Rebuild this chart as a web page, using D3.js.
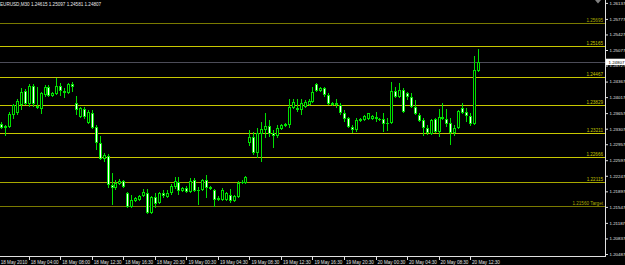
<!DOCTYPE html>
<html><head><meta charset="utf-8">
<script src="https://cdn.jsdelivr.net/npm/d3@7/dist/d3.min.js"></script>
<style>html,body{margin:0;padding:0;background:#000;overflow:hidden}svg{display:block}</style>
</head><body>
<svg id="c" width="625" height="265"></svg>
<script>
const candleOpen=[1.23412,1.23322,1.23345,1.23615,1.23660,1.23840,1.24155,1.23862,1.24267,1.23817,1.23750,1.24065,1.24245,1.24042,1.24087,1.24267,1.24155,1.24110,1.24312,1.23885,1.23570,1.23750,1.23435,1.23660,1.23345,1.22985,1.22625,1.22692,1.22040,1.21972,1.22062,1.22130,1.21860,1.21545,1.21680,1.21702,1.21792,1.21860,1.21410,1.21770,1.21635,1.21860,1.21770,1.21860,1.21995,1.22107,1.21905,1.21972,1.21882,1.22152,1.21927,1.21927,1.22152,1.21995,1.21927,1.21702,1.21702,1.21702,1.21815,1.21680,1.21770,1.22085,1.22085,1.22985,1.23120,1.22760,1.23187,1.23277,1.23367,1.23210,1.23142,1.23300,1.23367,1.23390,1.23772,1.23772,1.23727,1.23795,1.23840,1.23907,1.24312,1.24155,1.24222,1.24065,1.23840,1.23840,1.23840,1.23660,1.23547,1.23345,1.23277,1.23480,1.23502,1.23525,1.23525,1.23570,1.23502,1.23525,1.23412,1.23435,1.24155,1.24020,1.24177,1.24110,1.24020,1.23795,1.23615,1.23502,1.23322,1.23187,1.23525,1.23232,1.23570,1.23525,1.23435,1.23210,1.23322,1.23772,1.23682,1.23592,1.23412,1.24615];
const candleHigh=[1.23457,1.23390,1.23682,1.23862,1.23975,1.24222,1.24200,1.24312,1.24312,1.24245,1.24132,1.24290,1.24290,1.24132,1.24447,1.24335,1.24222,1.24335,1.24357,1.24042,1.23795,1.23795,1.23727,1.23727,1.23390,1.23142,1.22760,1.22737,1.22310,1.22152,1.22175,1.22152,1.21882,1.21815,1.21770,1.21815,1.21950,1.21950,1.21792,1.21860,1.21882,1.21927,1.21927,1.22062,1.22220,1.22220,1.21995,1.22017,1.22197,1.22197,1.21995,1.22175,1.22265,1.22017,1.21950,1.21792,1.21972,1.21882,1.21950,1.21815,1.22130,1.22152,1.22242,1.23277,1.23232,1.23322,1.23457,1.23660,1.23502,1.23277,1.23390,1.23412,1.23435,1.23975,1.23975,1.23975,1.23975,1.23952,1.23975,1.24245,1.24335,1.24245,1.24245,1.24110,1.23907,1.23975,1.23885,1.23727,1.23570,1.23390,1.23547,1.23547,1.23615,1.23660,1.23615,1.23682,1.23547,1.23660,1.23547,1.24357,1.24245,1.24335,1.24222,1.24132,1.24110,1.23952,1.23660,1.23547,1.23390,1.23525,1.23547,1.23750,1.23885,1.23750,1.23547,1.23390,1.23727,1.23885,1.23772,1.23660,1.24942,1.25097];
const candleLow=[1.23300,1.23142,1.23322,1.23525,1.23615,1.23727,1.23840,1.23795,1.23795,1.23750,1.23637,1.24020,1.24020,1.24020,1.24065,1.24042,1.23997,1.24087,1.24132,1.23615,1.23547,1.23525,1.23412,1.23300,1.22827,1.22602,1.22557,1.21972,1.21590,1.21927,1.22040,1.21972,1.21522,1.21522,1.21657,1.21680,1.21770,1.21387,1.21387,1.21522,1.21612,1.21747,1.21747,1.21815,1.21950,1.21815,1.21882,1.21860,1.21860,1.21882,1.21590,1.21905,1.21747,1.21927,1.21545,1.21680,1.21680,1.21680,1.21635,1.21657,1.21747,1.22062,1.22062,1.22917,1.22715,1.22647,1.22557,1.23097,1.23120,1.22872,1.23097,1.23277,1.23345,1.23322,1.23750,1.23682,1.23615,1.23772,1.23817,1.23885,1.24132,1.24132,1.24020,1.23840,1.23817,1.23772,1.23615,1.23457,1.23322,1.23210,1.23232,1.23457,1.23480,1.23502,1.23502,1.23457,1.23480,1.23232,1.23255,1.23412,1.23997,1.23997,1.23660,1.23952,1.23772,1.23615,1.23457,1.23142,1.23165,1.23165,1.23210,1.23120,1.23502,1.23345,1.22940,1.23142,1.23300,1.23637,1.23457,1.23367,1.23390,1.24581];
const candleClose=[1.23322,1.23367,1.23637,1.23840,1.23930,1.24132,1.23862,1.24267,1.23862,1.23772,1.24110,1.24245,1.24042,1.24110,1.24267,1.24155,1.24110,1.24312,1.24245,1.23727,1.23772,1.23570,1.23682,1.23322,1.22985,1.22625,1.22715,1.22040,1.21972,1.22085,1.22130,1.21995,1.21545,1.21702,1.21747,1.21792,1.21882,1.21410,1.21770,1.21612,1.21860,1.21792,1.21860,1.22017,1.22130,1.21905,1.21972,1.21882,1.22130,1.21905,1.21920,1.22152,1.21972,1.21950,1.21702,1.21747,1.21927,1.21860,1.21680,1.21792,1.22085,1.22107,1.22220,1.23120,1.22760,1.23210,1.23300,1.23367,1.23187,1.23142,1.23322,1.23390,1.23412,1.23795,1.23907,1.23727,1.23885,1.23907,1.23930,1.24132,1.24155,1.24222,1.24065,1.23862,1.23885,1.23885,1.23660,1.23525,1.23345,1.23277,1.23502,1.23525,1.23592,1.23650,1.23592,1.23525,1.23525,1.23412,1.23435,1.24155,1.24020,1.24177,1.23682,1.24020,1.23795,1.23637,1.23480,1.23322,1.23210,1.23502,1.23232,1.23570,1.23525,1.23412,1.23210,1.23322,1.23705,1.23660,1.23592,1.23412,1.24627,1.24807];

const priceTicks=[1.26137,1.25777,1.25427,1.25077,1.24727,1.24367,1.24017,1.23657,1.23307,1.22957,1.22597,1.22247,1.21897,1.21547,1.21187,1.20837,1.20487];
const timeTickIndex=[0,7,15,23,31,39,47,55,63,71,79,87,95,103,111,119];
const timeLabels=["18 May 2010","18 May 04:00","18 May 08:00","18 May 12:30","18 May 16:30","18 May 20:30","19 May 00:30","19 May 04:30","19 May 08:30","19 May 12:30","19 May 16:30","19 May 20:30","20 May 00:30","20 May 04:30","20 May 08:30","20 May 12:30"];
const levelPrices=[1.25695,1.25165,1.24467,1.23829,1.23211,1.22666,1.22115,1.21560];
const levelLabels=["1.25695","1.25165","1.24467","1.23829","1.23211","1.22666","1.22115","1.21560 Target"];
const levelKinds=["dim","bright","bright","bright","bright","bright","mid","dim"];
const symbolTitle="EURUSD,M30";
const bidPrice=1.24807;

const W=625,H=265,axisX=605,axisY=256.5;
const svg=d3.select("#c");
const y=d3.scaleLinear().domain([1.20487,1.26137]).range([254,2.9]);
const x=d3.scaleLinear().domain([0,121]).range([1.2,1.2+121*3.94]);
const font="'Liberation Sans', Arial, sans-serif";
const levelColor={dim:"#7a7a00",mid:"#a8a800",bright:"#c8c800"};

svg.append("rect").attr("width",W).attr("height",H).attr("fill","#000");

// header
svg.append("text").attr("x",0).attr("y",6).attr("fill","#e8e8e8").attr("font-family",font).attr("font-size",4.6)
  .text(symbolTitle+"  "+[candleOpen[121],candleHigh[121],candleLow[121],candleClose[121]].map(d3.format(".5f")).join(" "));

// level lines
const lv=svg.append("g").attr("shape-rendering","crispEdges");
levelPrices.forEach((p,i)=>{
  const yy=Math.round(y(p))+0.5;
  lv.append("line").attr("x1",0).attr("x2",axisX).attr("y1",yy).attr("y2",yy)
    .attr("stroke",levelColor[levelKinds[i]]).attr("stroke-width",1);
  svg.append("text").attr("x",603).attr("y",yy-1.3).attr("text-anchor","end")
    .attr("fill",levelColor[levelKinds[i]==="dim"?"mid":"bright"]).attr("font-family",font).attr("font-size",4.6).text(levelLabels[i]);
});
// bid line
{const yy=Math.round(y(bidPrice))+0.5;
 lv.append("line").attr("x1",0).attr("x2",axisX).attr("y1",yy).attr("y2",yy).attr("stroke","#4c4c58").attr("stroke-width",1.5);}

// candles
const g=svg.append("g").attr("shape-rendering","crispEdges");
candleOpen.forEach((o,i)=>{
  const c=candleClose[i],h=candleHigh[i],l=candleLow[i];
  const cx=Math.round(x(i));
  g.append("rect").attr("x",cx).attr("y",y(h)).attr("width",1).attr("height",Math.max(1,y(l)-y(h))).attr("fill","#00e000");
  const top=Math.round(y(Math.max(o,c))),bot=Math.round(y(Math.min(o,c)));
  const hh=Math.max(1,bot-top);
  g.append("rect").attr("x",cx-1).attr("y",top).attr("width",3).attr("height",hh).attr("fill","#00e000");
  if(hh>2){
    g.append("rect").attr("x",cx).attr("y",top+1).attr("width",1).attr("height",hh-2)
      .attr("fill",c<o?"#ffffff":"#000000");
  }
});

// axes frame
const fr=svg.append("g").attr("shape-rendering","crispEdges");
fr.append("line").attr("x1",axisX+0.5).attr("x2",axisX+0.5).attr("y1",0).attr("y2",axisY+0.5).attr("stroke","#e0e0e0");
fr.append("line").attr("x1",0).attr("x2",axisX+1).attr("y1",axisY).attr("y2",axisY).attr("stroke","#e0e0e0");

// right axis
const ya=d3.axisRight(y).tickValues(priceTicks).tickFormat(d3.format(".5f")).tickSize(2).tickPadding(1.5);
const yg=svg.append("g").attr("transform",`translate(${axisX+1},0)`).call(ya);
yg.select(".domain").remove();
yg.selectAll("line").attr("stroke","#e0e0e0");
yg.selectAll("text").attr("fill","#e0e0e0").attr("font-family",font).attr("font-size",4.4);

// bottom axis
const xa=d3.axisBottom(x).tickValues(timeTickIndex).tickFormat((d,i)=>timeLabels[i]).tickSize(3).tickPadding(2);
const xg=svg.append("g").attr("transform",`translate(0,${axisY})`).call(xa);
xg.select(".domain").remove();
xg.selectAll("line").attr("stroke","#e0e0e0").attr("shape-rendering","crispEdges");
xg.selectAll("text").attr("fill","#e0e0e0").attr("font-family",font).attr("font-size",4.6)
  .attr("text-anchor","start").attr("dx",1.5).attr("dy","0.45em");
xg.selectAll(".tick").filter(d=>d===0).select("line").remove();
xg.selectAll(".tick").filter(d=>d===0).select("text").attr("dx",-1);

// bid label box
{const yy=y(bidPrice);
 svg.append("rect").attr("x",axisX+1).attr("y",yy-3.3).attr("width",W-axisX-1).attr("height",6.4).attr("fill","#ffffff");
 svg.append("text").attr("x",axisX+3.5).attr("y",yy+1.7).attr("fill","#000").attr("font-family",font).attr("font-size",4.4).text(d3.format(".5f")(bidPrice));}

// shift marker
svg.append("path").attr("d",d3.line()([[595,0],[601,0],[598,3.5]])+"Z").attr("fill","#808080");
</script>
</body></html>
